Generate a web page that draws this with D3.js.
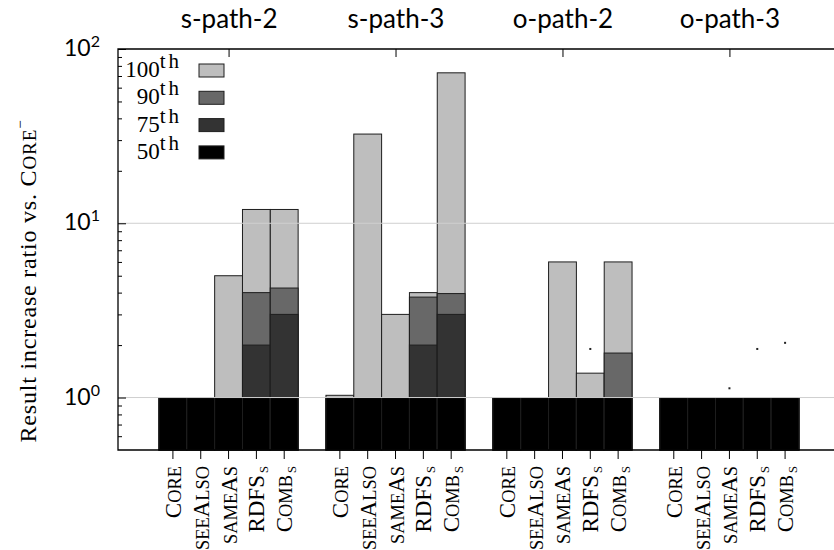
<!DOCTYPE html>
<html><head><meta charset="utf-8">
<script src="https://cdn.jsdelivr.net/npm/d3@7"></script>
<style>
body{margin:0;background:#fff;}
svg{display:block;}
</style></head>
<body>
<svg id="chart" width="834" height="550"></svg>
<script>
// ---- data ----
const groups = ["s-path-2", "s-path-3", "o-path-2", "o-path-3"];
const methods = ["Core", "seeAlso", "sameAs", "RDFS_s", "Comb_s"];
const percentiles = ["100th", "90th", "75th", "50th"];
const percentileColors = ["#bebebe", "#686868", "#333333", "#000000"];
// values per group (rows) x method (cols)
const p100 = [[1, 1, 5, 12, 12], [1.03, 32.5, 3, 4.0, 73], [1, 1, 6, 1.38, 6], [1, 1, 1, 1, 1]];
const p90  = [[1, 1, 1, 4, 4.25], [1, 1, 1, 3.77, 3.95], [1, 1, 1, 1, 1.8], [1, 1, 1, 1, 1]];
const p75  = [[1, 1, 1, 2, 3], [1, 1, 1, 2, 3], [1, 1, 1, 1, 1], [1, 1, 1, 1, 1]];
const p50  = [[1, 1, 1, 1, 1], [1, 1, 1, 1, 1], [1, 1, 1, 1, 1], [1, 1, 1, 1, 1]];
const extraPoints = [[null, null, null, null, null], [null, null, null, null, null], [null, null, null, 1.9, null], [null, null, 1.13, 1.9, 2.06]];
const yMajorTicks = [1, 10, 100];
const yMinorTicks = [0.6, 0.7, 0.8, 0.9, 2, 3, 4, 5, 6, 7, 8, 9, 20, 30, 40, 50, 60, 70, 80, 90];
const yLabel = ["Result increase ratio vs. ", "Core", "−"];

// ---- layout ----
const svg = d3.select("#chart");
const L = 118, R = 840, T = 49, B = 450;
const serif = "'Liberation Serif', 'DejaVu Serif', serif";
const sans = "Lato, 'Open Sans', sans-serif";

const y = d3.scaleLog().domain([0.5, 100]).range([B, T]);
const xg = d3.scaleBand().domain(groups).range([159, 799]).paddingInner(1 / 6).paddingOuter(0);
const xm = d3.scaleBand().domain(methods).range([0, xg.bandwidth()]);

svg.append("rect").attr("width", 834).attr("height", 550).attr("fill", "#fff");

// bars
const series = [p100, p90, p75, p50];
const cells = [];
groups.forEach((g, gi) => methods.forEach((m, mi) => {
  series.forEach((s, si) => cells.push({g, m, v: s[gi][mi], si}));
}));
svg.append("g").selectAll("rect").data(cells).join("rect")
  .attr("x", d => xg(d.g) + xm(d.m))
  .attr("width", xm.bandwidth())
  .attr("y", d => y(d.v))
  .attr("height", d => B - y(d.v))
  .attr("fill", d => percentileColors[d.si])
  .attr("stroke", "#1e1e1e")
  .attr("stroke-width", 1);

// extra small points
const pts = [];
groups.forEach((g, gi) => methods.forEach((m, mi) => {
  if (extraPoints[gi][mi] != null) pts.push({g, m, v: extraPoints[gi][mi]});
}));
svg.append("g").selectAll("rect").data(pts).join("rect")
  .attr("x", d => xg(d.g) + xm(d.m) + xm.bandwidth() / 2 - 1)
  .attr("y", d => y(d.v) - 1)
  .attr("width", 2).attr("height", 2)
  .attr("fill", "#222");

// grid lines (in front)
svg.append("g").selectAll("line").data([1, 10]).join("line")
  .attr("x1", L).attr("x2", R)
  .attr("y1", d => y(d)).attr("y2", d => y(d))
  .attr("stroke", "#cfcfcf").attr("stroke-width", 1);

// frame
svg.append("path")
  .attr("d", `M${R},${T}H${L}V${B}H${R}`)
  .attr("fill", "none").attr("stroke", "#000").attr("stroke-width", 1.3);

// y ticks
const yMaj = svg.append("g").attr("transform", `translate(${L},0)`)
  .call(d3.axisLeft(y).tickValues(yMajorTicks).tickSize(-8).tickFormat(""));
yMaj.select(".domain").remove();
const yMin = svg.append("g").attr("transform", `translate(${L},0)`)
  .call(d3.axisLeft(y).tickValues(yMinorTicks).tickSize(-4).tickFormat(""));
yMin.select(".domain").remove();
svg.selectAll(".tick line").attr("stroke", "#000");

// y tick labels
const yl = svg.append("g").selectAll("text").data(yMajorTicks).join("text")
  .attr("x", 100).attr("y", d => y(d) + 7)
  .attr("text-anchor", "end")
  .attr("font-family", sans).attr("font-size", 23).attr("fill", "#000");
yl.append("tspan").text("10");
yl.append("tspan").attr("font-size", 16).attr("dy", -9).text(d => Math.round(Math.log10(d)));

// top axis with titles at group centres
const xTop = d3.scalePoint().domain(groups)
  .range([xg(groups[0]) + xg.bandwidth() / 2, xg(groups[groups.length - 1]) + xg.bandwidth() / 2]);
const topAx = svg.append("g").attr("transform", `translate(0,${T})`)
  .call(d3.axisTop(xTop).tickSize(-8).tickPadding(21));
topAx.select(".domain").remove();
topAx.selectAll("text").attr("font-family", sans).attr("font-size", 26).attr("fill", "#000");
topAx.selectAll("line").attr("stroke", "#000");

// bottom ticks and labels
const labelCells = [];
groups.forEach(g => methods.forEach(m => labelCells.push({g, m})));
const cx = d => xg(d.g) + xm(d.m) + xm.bandwidth() / 2;
svg.append("g").selectAll("line").data(labelCells).join("line")
  .attr("x1", cx).attr("x2", cx).attr("y1", B).attr("y2", B + 9)
  .attr("stroke", "#000");

function scText(sel, label, size) {
  // uppercase -> full caps, lowercase -> small caps, "_x" -> subscript small caps
  let main = label, sub = null;
  if (label.includes("_")) { [main, sub] = label.split("_"); }
  const runs = main.match(/[A-Z]+|[^A-Z]+/g);
  runs.forEach(r => {
    if (/[A-Z]/.test(r[0])) sel.append("tspan").attr("font-size", size).text(r);
    else sel.append("tspan").attr("font-size", size * 0.8).text(r.toUpperCase());
  });
  if (sub) {
    sel.append("tspan").attr("font-size", size * 0.55).attr("dx", 2).attr("dy", 4).text(sub.toUpperCase());
  }
}
svg.append("g").selectAll("text").data(labelCells).join("text")
  .attr("transform", d => `translate(${cx(d) + 8},466) rotate(-90)`)
  .attr("text-anchor", "end")
  .attr("font-family", serif).attr("fill", "#000")
  .each(function(d) { scText(d3.select(this), d.m, 23); });

// y label
const ylab = svg.append("text")
  .attr("transform", `translate(36,281) rotate(-90)`)
  .attr("text-anchor", "middle")
  .attr("font-family", serif).attr("font-size", 24).attr("letter-spacing", 0.8).attr("fill", "#000");
ylab.append("tspan").text(yLabel[0]);
scText(ylab, yLabel[1], 24);
ylab.append("tspan").attr("font-size", 15).attr("dy", -11).text(yLabel[2]);

// legend
const leg = svg.append("g").selectAll("g").data(percentiles).join("g")
  .attr("transform", (d, i) => `translate(0,${64 + i * 27.3})`);
leg.append("rect").attr("x", 199).attr("y", 0).attr("width", 25).attr("height", 13)
  .attr("fill", (d, i) => percentileColors[i]).attr("stroke", "#1e1e1e");
const lt = leg.append("text").attr("x", 182).attr("y", 13).attr("text-anchor", "end")
  .attr("font-family", serif).attr("font-size", 23).attr("fill", "#000");
lt.append("tspan").text(d => d.replace("th", ""));
lt.append("tspan").attr("font-size", 21).attr("dy", -9).attr("letter-spacing", 3).text("th");
</script>
</body></html>
